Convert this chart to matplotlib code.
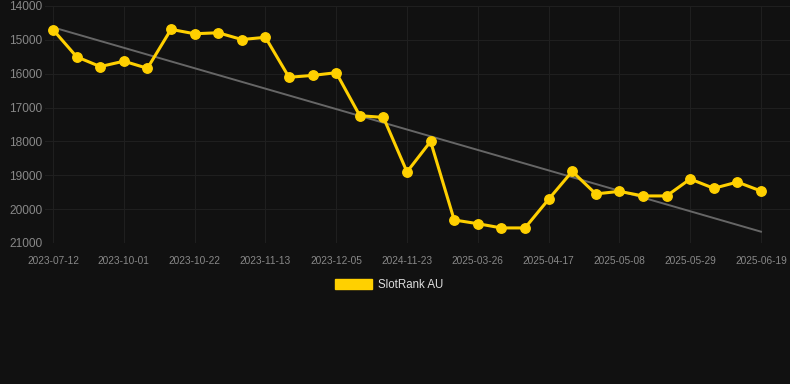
import numpy as np
import matplotlib
matplotlib.use("Agg")
import matplotlib.pyplot as plt
from matplotlib.patches import Patch

plt.rcParams['font.family'] = ['Liberation Sans', 'DejaVu Sans']

# dati (rank, asse invertito)
rank = [14700, 15500, 15790, 15630, 15840, 14690, 14820, 14790, 14990, 14925,
        16105, 16050, 15970, 17240, 17290, 18900, 18000, 20320, 20430, 20555,
        20555, 19710, 18885, 19550, 19475, 19610, 19610, 19110, 19385, 19200,
        19465]
tick_labels = ['2023-07-12', '2023-10-01', '2023-10-22', '2023-11-13', '2023-12-05',
               '2024-11-23', '2025-03-26', '2025-04-17', '2025-05-08', '2025-05-29',
               '2025-06-19']
y_ticks = [14000, 15000, 16000, 17000, 18000, 19000, 20000, 21000]

bg = '#111111'
x = np.arange(len(rank))

fig = plt.figure(figsize=(7.9, 3.84), dpi=100, facecolor=bg)
ax = fig.add_axes([45 / 790, 1 - 243 / 384, 745 / 790, 237 / 384], facecolor=bg)

# linea di tendenza (regressione lineare)
coef = np.polyfit(x, rank, 1)
ax.plot(x, np.polyval(coef, x), color='#666666', lw=1.4, zorder=2)

ax.plot(x, rank, color='#FFD000', lw=2.2, marker='o', markersize=6.8, zorder=3)

ax.set_ylim(21000, 14000)
ax.set_xlim(-0.34, 31.23)
ax.set_yticks(y_ticks)
ax.set_xticks(x[::3])
ax.set_xticklabels(tick_labels)

ax.grid(True, color='#1f1f1f', lw=0.8)
ax.set_axisbelow(True)
for s in ax.spines.values():
    s.set_visible(False)
ax.tick_params(axis='x', colors='#888888', labelsize=7.3, length=0, pad=9)
ax.tick_params(axis='y', colors='#888888', labelsize=8.6, length=0, pad=2)

fig.legend(handles=[Patch(color='#FFD000', label='SlotRank AU')],
           loc='center', bbox_to_anchor=(389 / 790, 1 - 285 / 384),
           frameon=False, labelcolor='#dddddd', fontsize=8.3,
           handlelength=3.2, handleheight=1.0, handletextpad=0.5)

fig.savefig('out.png', dpi=100, facecolor=bg)
